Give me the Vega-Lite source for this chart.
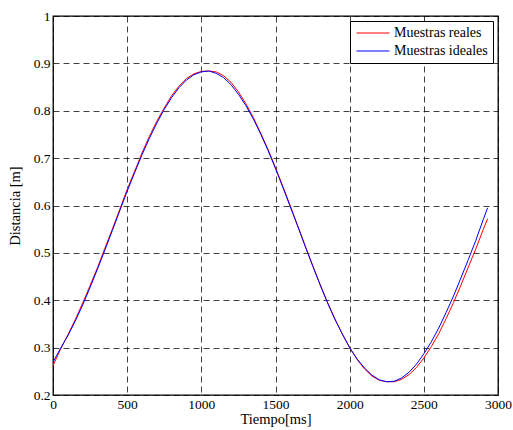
{
  "$schema": "https://vega.github.io/schema/vega-lite/v6.json",
  "width": 445,
  "height": 379,
  "autosize": {"type": "none"},
  "padding": {"left": 53, "top": 16, "right": 15, "bottom": 35},
  "background": "white",
  "config": {
    "font": "Liberation Serif",
    "view": {"stroke": "#000000", "strokeWidth": 1.3},
    "axis": {
      "domain": false,
      "ticks": false,
      "grid": true,
      "gridColor": "#000000",
      "gridOpacity": 0.75,
      "gridDash": [6, 4],
      "gridWidth": 1,
      "labelFlush": false,
      "labelFont": "Liberation Serif",
      "labelFontSize": 13.5,
      "labelColor": "#000000",
      "titleFont": "Liberation Serif",
      "titleFontSize": 14.5,
      "titleFontWeight": "normal",
      "titleColor": "#000000"
    },
    "legend": {
      "labelFont": "Liberation Serif",
      "labelFontSize": 14,
      "labelColor": "#000000"
    }
  },
  "data": {
    "values": [
      {"t": 0, "v": 0.262, "s": "Muestras reales"},
      {"t": 50, "v": 0.296, "s": "Muestras reales"},
      {"t": 100, "v": 0.327, "s": "Muestras reales"},
      {"t": 150, "v": 0.359, "s": "Muestras reales"},
      {"t": 200, "v": 0.394, "s": "Muestras reales"},
      {"t": 250, "v": 0.431, "s": "Muestras reales"},
      {"t": 300, "v": 0.469, "s": "Muestras reales"},
      {"t": 350, "v": 0.510, "s": "Muestras reales"},
      {"t": 400, "v": 0.550, "s": "Muestras reales"},
      {"t": 450, "v": 0.592, "s": "Muestras reales"},
      {"t": 500, "v": 0.634, "s": "Muestras reales"},
      {"t": 550, "v": 0.672, "s": "Muestras reales"},
      {"t": 600, "v": 0.711, "s": "Muestras reales"},
      {"t": 650, "v": 0.746, "s": "Muestras reales"},
      {"t": 700, "v": 0.778, "s": "Muestras reales"},
      {"t": 750, "v": 0.806, "s": "Muestras reales"},
      {"t": 800, "v": 0.832, "s": "Muestras reales"},
      {"t": 850, "v": 0.852, "s": "Muestras reales"},
      {"t": 900, "v": 0.868, "s": "Muestras reales"},
      {"t": 950, "v": 0.878, "s": "Muestras reales"},
      {"t": 1000, "v": 0.883, "s": "Muestras reales"},
      {"t": 1050, "v": 0.884, "s": "Muestras reales"},
      {"t": 1100, "v": 0.882, "s": "Muestras reales"},
      {"t": 1150, "v": 0.874, "s": "Muestras reales"},
      {"t": 1200, "v": 0.860, "s": "Muestras reales"},
      {"t": 1250, "v": 0.840, "s": "Muestras reales"},
      {"t": 1300, "v": 0.815, "s": "Muestras reales"},
      {"t": 1350, "v": 0.786, "s": "Muestras reales"},
      {"t": 1400, "v": 0.753, "s": "Muestras reales"},
      {"t": 1450, "v": 0.718, "s": "Muestras reales"},
      {"t": 1500, "v": 0.680, "s": "Muestras reales"},
      {"t": 1550, "v": 0.640, "s": "Muestras reales"},
      {"t": 1600, "v": 0.599, "s": "Muestras reales"},
      {"t": 1650, "v": 0.557, "s": "Muestras reales"},
      {"t": 1700, "v": 0.515, "s": "Muestras reales"},
      {"t": 1750, "v": 0.474, "s": "Muestras reales"},
      {"t": 1800, "v": 0.434, "s": "Muestras reales"},
      {"t": 1850, "v": 0.396, "s": "Muestras reales"},
      {"t": 1900, "v": 0.361, "s": "Muestras reales"},
      {"t": 1950, "v": 0.329, "s": "Muestras reales"},
      {"t": 2000, "v": 0.300, "s": "Muestras reales"},
      {"t": 2050, "v": 0.275, "s": "Muestras reales"},
      {"t": 2100, "v": 0.255, "s": "Muestras reales"},
      {"t": 2150, "v": 0.240, "s": "Muestras reales"},
      {"t": 2200, "v": 0.231, "s": "Muestras reales"},
      {"t": 2250, "v": 0.228, "s": "Muestras reales"},
      {"t": 2300, "v": 0.228, "s": "Muestras reales"},
      {"t": 2350, "v": 0.233, "s": "Muestras reales"},
      {"t": 2400, "v": 0.243, "s": "Muestras reales"},
      {"t": 2450, "v": 0.258, "s": "Muestras reales"},
      {"t": 2500, "v": 0.278, "s": "Muestras reales"},
      {"t": 2550, "v": 0.302, "s": "Muestras reales"},
      {"t": 2600, "v": 0.329, "s": "Muestras reales"},
      {"t": 2650, "v": 0.361, "s": "Muestras reales"},
      {"t": 2700, "v": 0.395, "s": "Muestras reales"},
      {"t": 2750, "v": 0.432, "s": "Muestras reales"},
      {"t": 2800, "v": 0.470, "s": "Muestras reales"},
      {"t": 2850, "v": 0.508, "s": "Muestras reales"},
      {"t": 2900, "v": 0.549, "s": "Muestras reales"},
      {"t": 2930, "v": 0.572, "s": "Muestras reales"},
      {"t": 0, "v": 0.269, "s": "Muestras ideales"},
      {"t": 50, "v": 0.298, "s": "Muestras ideales"},
      {"t": 100, "v": 0.325, "s": "Muestras ideales"},
      {"t": 150, "v": 0.356, "s": "Muestras ideales"},
      {"t": 200, "v": 0.390, "s": "Muestras ideales"},
      {"t": 250, "v": 0.427, "s": "Muestras ideales"},
      {"t": 300, "v": 0.466, "s": "Muestras ideales"},
      {"t": 350, "v": 0.506, "s": "Muestras ideales"},
      {"t": 400, "v": 0.547, "s": "Muestras ideales"},
      {"t": 450, "v": 0.589, "s": "Muestras ideales"},
      {"t": 500, "v": 0.630, "s": "Muestras ideales"},
      {"t": 550, "v": 0.669, "s": "Muestras ideales"},
      {"t": 600, "v": 0.707, "s": "Muestras ideales"},
      {"t": 650, "v": 0.742, "s": "Muestras ideales"},
      {"t": 700, "v": 0.774, "s": "Muestras ideales"},
      {"t": 750, "v": 0.803, "s": "Muestras ideales"},
      {"t": 800, "v": 0.828, "s": "Muestras ideales"},
      {"t": 850, "v": 0.849, "s": "Muestras ideales"},
      {"t": 900, "v": 0.865, "s": "Muestras ideales"},
      {"t": 950, "v": 0.876, "s": "Muestras ideales"},
      {"t": 1000, "v": 0.882, "s": "Muestras ideales"},
      {"t": 1050, "v": 0.884, "s": "Muestras ideales"},
      {"t": 1100, "v": 0.879, "s": "Muestras ideales"},
      {"t": 1150, "v": 0.870, "s": "Muestras ideales"},
      {"t": 1200, "v": 0.855, "s": "Muestras ideales"},
      {"t": 1250, "v": 0.835, "s": "Muestras ideales"},
      {"t": 1300, "v": 0.811, "s": "Muestras ideales"},
      {"t": 1350, "v": 0.783, "s": "Muestras ideales"},
      {"t": 1400, "v": 0.751, "s": "Muestras ideales"},
      {"t": 1450, "v": 0.716, "s": "Muestras ideales"},
      {"t": 1500, "v": 0.678, "s": "Muestras ideales"},
      {"t": 1550, "v": 0.638, "s": "Muestras ideales"},
      {"t": 1600, "v": 0.597, "s": "Muestras ideales"},
      {"t": 1650, "v": 0.556, "s": "Muestras ideales"},
      {"t": 1700, "v": 0.514, "s": "Muestras ideales"},
      {"t": 1750, "v": 0.473, "s": "Muestras ideales"},
      {"t": 1800, "v": 0.433, "s": "Muestras ideales"},
      {"t": 1850, "v": 0.395, "s": "Muestras ideales"},
      {"t": 1900, "v": 0.360, "s": "Muestras ideales"},
      {"t": 1950, "v": 0.329, "s": "Muestras ideales"},
      {"t": 2000, "v": 0.300, "s": "Muestras ideales"},
      {"t": 2050, "v": 0.276, "s": "Muestras ideales"},
      {"t": 2100, "v": 0.257, "s": "Muestras ideales"},
      {"t": 2150, "v": 0.242, "s": "Muestras ideales"},
      {"t": 2200, "v": 0.232, "s": "Muestras ideales"},
      {"t": 2250, "v": 0.228, "s": "Muestras ideales"},
      {"t": 2300, "v": 0.229, "s": "Muestras ideales"},
      {"t": 2350, "v": 0.236, "s": "Muestras ideales"},
      {"t": 2400, "v": 0.248, "s": "Muestras ideales"},
      {"t": 2450, "v": 0.265, "s": "Muestras ideales"},
      {"t": 2500, "v": 0.287, "s": "Muestras ideales"},
      {"t": 2550, "v": 0.312, "s": "Muestras ideales"},
      {"t": 2600, "v": 0.341, "s": "Muestras ideales"},
      {"t": 2650, "v": 0.374, "s": "Muestras ideales"},
      {"t": 2700, "v": 0.409, "s": "Muestras ideales"},
      {"t": 2750, "v": 0.447, "s": "Muestras ideales"},
      {"t": 2800, "v": 0.486, "s": "Muestras ideales"},
      {"t": 2850, "v": 0.526, "s": "Muestras ideales"},
      {"t": 2900, "v": 0.570, "s": "Muestras ideales"},
      {"t": 2930, "v": 0.595, "s": "Muestras ideales"}
    ]
  },
  "mark": {"type": "line", "strokeWidth": 1, "clip": true},
  "encoding": {
    "x": {
      "field": "t",
      "type": "quantitative",
      "scale": {"domain": [0, 3000], "nice": false, "zero": false},
      "axis": {
        "title": "Tiempo[ms]",
        "values": [0, 500, 1000, 1500, 2000, 2500, 3000],
        "format": "d",
        "labelFlush": false,
        "labelPadding": 2,
        "titlePadding": 2
      }
    },
    "y": {
      "field": "v",
      "type": "quantitative",
      "scale": {"domain": [0.2, 1], "nice": false, "zero": false},
      "axis": {
        "title": "Distancia [m]",
        "values": [0.2, 0.3, 0.4, 0.5, 0.6, 0.7, 0.8, 0.9, 1],
        "labelExpr": "datum.value == 1 ? '1' : format(datum.value, '.1f')",
        "labelFlush": false,
        "labelPadding": 3,
        "titlePadding": 11
      }
    },
    "color": {
      "field": "s",
      "type": "nominal",
      "sort": ["Muestras reales", "Muestras ideales"],
      "scale": {"domain": ["Muestras reales", "Muestras ideales"], "range": ["#ff0000", "#0000ff"]},
      "legend": {
        "title": null,
        "orient": "top-right",
        "offset": 5,
        "strokeColor": "#000000",
        "fillColor": "#ffffff",
        "padding": 5,
        "rowPadding": 4,
        "symbolType": "M-1,0H5",
        "symbolSize": 121,
        "symbolStrokeWidth": 1,
        "labelOffset": 25
      }
    }
  }
}
